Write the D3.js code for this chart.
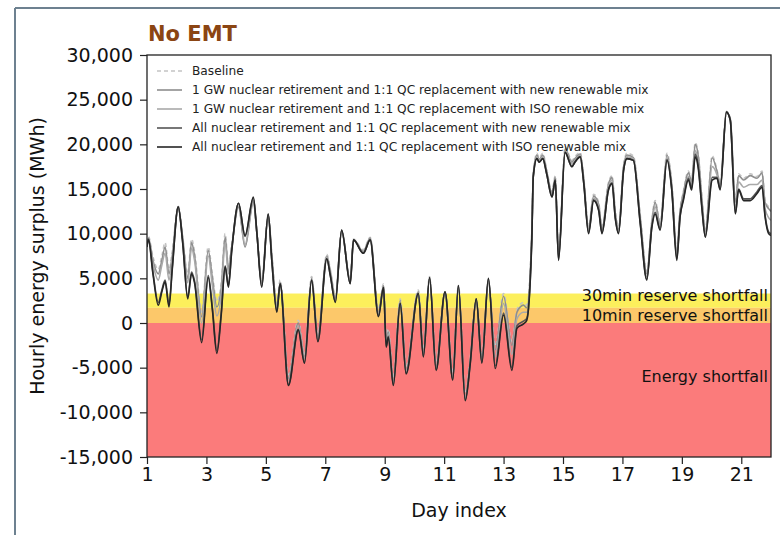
<!DOCTYPE html>
<html><head><meta charset="utf-8">
<script src="https://cdn.jsdelivr.net/npm/d3@7"></script>
<style>
html,body{margin:0;padding:0;background:#fff;}
svg{display:block;font-family:"DejaVu Sans",sans-serif;}
</style></head>
<body><svg id="c" width="780" height="535"></svg>
<script>
const title = "No EMT";
const xLabel = "Day index";
const yLabel = "Hourly energy surplus (MWh)";
const xTicks = [1,3,5,7,9,11,13,15,17,19,21];
const yTicks = [-15000,-10000,-5000,0,5000,10000,15000,20000,25000,30000];
const seriesNames = [
  "Baseline",
  "1 GW nuclear retirement and 1:1 QC replacement with new renewable mix",
  "1 GW nuclear retirement and 1:1 QC replacement with ISO renewable mix",
  "All nuclear retirement and 1:1 QC replacement with new renewable mix",
  "All nuclear retirement and 1:1 QC replacement with ISO renewable mix"
];
const bandNames = ["30min reserve shortfall","10min reserve shortfall","Energy shortfall"];
const bandLimits = [[1700,3300],[0,1700],[-15000,0]];
const bandLabelVals = [3100, 850, -6000];

const days = [1.0,1.05,1.2,1.38,1.5,1.61,1.74,1.85,2.05,2.2,
2.37,2.5,2.6,2.84,3.06,3.2,3.35,3.5,3.63,3.74,
3.85,4.08,4.3,4.58,4.7,4.86,5.08,5.2,5.37,5.48,
5.76,6.09,6.3,6.54,6.75,7.05,7.17,7.34,7.55,7.84,
7.95,8.28,8.51,8.79,8.96,9.05,9.12,9.29,9.52,9.72,
10.13,10.3,10.51,10.73,11.03,11.29,11.48,11.71,11.88,12.08,
12.27,12.49,12.72,13.0,13.28,13.45,13.67,13.78,13.95,14.0,
14.12,14.2,14.32,14.45,14.63,14.74,14.85,15.07,15.3,15.4,
15.58,15.7,15.86,16.03,16.2,16.31,16.53,16.65,16.76,16.87,
17.04,17.15,17.37,17.6,17.82,17.99,18.1,18.27,18.5,18.66,
18.83,18.94,19.05,19.22,19.33,19.45,19.56,19.67,19.79,20.02,
20.18,20.29,20.5,20.63,20.8,20.91,21.08,21.3,21.53,21.7,
21.8,21.92,22.0];

const baseline = [9000,9700,7400,6000,7500,9000,6000,8000,13100,9700,
5500,9400,8000,1200,8500,5500,2400,4500,10000,6500,
8800,13100,8700,13600,10200,4800,12100,7800,2200,4800,
-5800,300,-3500,5200,-1200,7700,6000,3000,10300,5000,
9400,8200,9600,1500,4400,-1700,-700,-6200,2700,-4900,
3700,-3000,5200,-4500,3500,-5600,4200,-7900,-3900,2700,
-3700,4700,-2600,3300,-2100,1500,2300,2000,10200,16600,
19000,18500,19000,17200,14700,16500,7800,19700,18200,18600,
19100,16200,10800,14400,13500,10800,15700,16500,12500,10800,
17700,19000,18700,12100,5800,11500,13700,11300,19000,15700,
8100,12700,14700,17000,16000,20200,18700,14300,10500,18700,
17200,15700,23700,22900,13700,16700,16200,16700,16400,17000,
13700,13000,12700];

const gw1New = [8800,9500,7000,5500,7000,8500,5500,7500,13000,9500,
5000,9000,7500,700,8100,5000,1800,4000,9600,6000,
8500,13000,8500,13500,10000,4500,12000,7500,1800,4500,
-6200,0,-3800,5000,-1500,7500,5800,2800,10200,4800,
9300,8000,9500,1200,4200,-2000,-1000,-6500,2500,-5200,
3500,-3300,5000,-4800,3300,-5900,4000,-8200,-4200,2500,
-4000,4500,-3000,3000,-2500,1200,2000,1700,10000,16500,
18800,18300,18800,17000,14500,16300,7500,19500,18000,18400,
18900,16000,10500,14200,13300,10500,15500,16300,12300,10500,
17500,18800,18500,11800,5500,11300,13500,11000,18800,15500,
7800,12500,14500,16800,15800,20000,18500,14000,10200,18500,
17000,15500,23600,22800,13500,16500,16000,16500,16200,16800,
13500,12800,12500];

const gw1Iso = [8700,9400,6600,4800,6500,7800,4800,7200,13000,9400,
4500,8400,7000,0,7500,4200,800,3200,9000,5500,
8400,13100,8800,13700,10000,4400,12100,7400,1600,4500,
-6500,-300,-4000,4900,-1700,7400,5600,2600,10300,4600,
9300,7900,9400,1000,4100,-2300,-1200,-6700,2400,-5400,
3400,-3500,5000,-5000,3400,-6100,4100,-8400,-4300,2600,
-4200,4700,-3800,2200,-3500,500,1200,1200,9700,16400,
18600,18200,18600,16900,14300,16100,7300,19300,17800,18200,
18800,15800,10300,14000,13000,10300,15200,16000,12000,10300,
17300,18600,18400,11500,5200,11000,13000,10700,18500,15200,
7500,12200,14100,16400,15400,19300,17800,13600,9900,17500,
16600,15200,23600,22700,12900,15800,15200,15500,15500,16000,
12800,11800,11500];

const allNew = [8700,9400,5700,2300,3700,4800,2100,6200,13000,9100,
2900,5700,4700,-1900,5300,1700,-3100,1200,6400,4200,
8100,13400,9700,14000,10000,4100,12200,7000,1300,4400,
-6900,-700,-4400,4800,-2000,7200,5300,2400,10400,4400,
9300,7800,9300,800,4000,-2600,-1500,-6900,2200,-5600,
3300,-3700,5100,-5200,3500,-6300,4200,-8600,-4400,2700,
-4400,5000,-4800,1100,-5000,-300,200,500,9400,16400,
18400,18000,18400,16700,14100,16000,7100,19100,17500,18000,
18600,15600,10100,13800,12700,10100,14900,15700,11800,10100,
17100,18400,18200,11200,4900,10800,12400,10500,18300,15000,
7200,12000,13900,16200,15100,18900,17400,13200,9700,16300,
16300,15000,23600,22700,12300,15000,13900,13900,14700,15400,
12100,10200,10000];

const allIso = [8500,9300,5500,2000,3500,4600,1800,6000,13000,9000,
2700,5500,4500,-2200,5100,1500,-3400,1000,6300,4000,
8000,13400,9800,14100,10000,4000,12200,7000,1200,4400,
-7000,-800,-4500,4800,-2100,7200,5300,2300,10400,4400,
9300,7800,9300,700,4000,-2700,-1600,-7000,2200,-5700,
3300,-3800,5100,-5300,3500,-6400,4200,-8700,-4500,2700,
-4500,5000,-5100,900,-5300,-600,-100,300,9300,16400,
18400,18000,18400,16700,14100,16000,7000,19100,17500,18000,
18600,15600,10000,13700,12600,10000,14900,15600,11700,10000,
17100,18400,18200,11100,4800,10700,12200,10400,18200,14900,
7000,11900,13700,16000,14900,18600,17100,13000,9600,16000,
16200,14900,23600,22700,12200,14900,13700,13700,14500,15200,
11900,10000,9800];

const seriesValues = [baseline, gw1New, gw1Iso, allNew, allIso];
const seriesColors = ["#c4c4c4","#8e8e8e","#a9a9a9","#555555","#262626"];
const seriesDash = ["4,3",null,null,null,null];
const bandColors = ["#fcef5c","#fcc86a","#fb7b7b"];

const svg = d3.select("#c");
const M = {left:147, right:771, top:55, bottom:457};

// outer frame
svg.append("line").attr("x1",15).attr("x2",780).attr("y1",8).attr("y2",8).attr("stroke","#6d8190").attr("stroke-width",2);
svg.append("line").attr("x1",15).attr("x2",15).attr("y1",8).attr("y2",535).attr("stroke","#6d8190").attr("stroke-width",2);

const x = d3.scaleLinear().domain([1,22]).range([M.left,M.right]);
const y = d3.scaleLinear().domain([-15000,30000]).range([M.bottom,M.top]);

// bands
svg.append("g").selectAll("rect").data(bandLimits).join("rect")
  .attr("x",x(1)).attr("width",x(22)-x(1))
  .attr("y",d=>y(d[1])).attr("height",d=>y(d[0])-y(d[1]))
  .attr("fill",(d,i)=>bandColors[i]);

// lines
svg.append("clipPath").attr("id","pc").append("rect")
  .attr("x",M.left).attr("y",M.top).attr("width",M.right-M.left).attr("height",M.bottom-M.top);
const line = d3.line().x((d,i)=>x(days[i])).y(d=>y(d)).curve(d3.curveMonotoneX);
const lg = svg.append("g").attr("clip-path","url(#pc)");
seriesValues.forEach((vals,i)=>{
  lg.append("path").attr("d",line(vals)).attr("fill","none")
    .attr("stroke",seriesColors[i]).attr("stroke-width",1.6)
    .attr("stroke-linejoin","round")
    .attr("stroke-dasharray",seriesDash[i]);
});

// band labels
svg.append("g").selectAll("text").data(bandNames).join("text")
  .attr("x",x(22)-3).attr("y",(d,i)=>y(bandLabelVals[i]))
  .attr("dy","0.35em")
  .attr("text-anchor","end").attr("font-size",16).attr("fill","#111").text(d=>d);

// axes
const fmt = v => d3.format(",")(v).replace("\u2212","-");
const yAxis = svg.append("g").attr("transform",`translate(${M.left},0)`)
  .call(d3.axisLeft(y).tickValues(yTicks).tickFormat(fmt).tickSize(7).tickPadding(7));
const xAxis = svg.append("g").attr("transform",`translate(0,${M.bottom})`)
  .call(d3.axisBottom(x).tickValues(xTicks).tickFormat(d3.format("d")).tickSize(7).tickPadding(4));
[yAxis,xAxis].forEach(a=>{
  a.selectAll("text").attr("font-size",19).attr("fill","#111").attr("font-family","DejaVu Sans");
  a.select(".domain").remove();
  a.selectAll(".tick line").attr("stroke","#222").attr("stroke-width",1.2);
});

// plot frame
svg.append("rect").attr("x",M.left).attr("y",M.top).attr("width",M.right-M.left).attr("height",M.bottom-M.top)
  .attr("fill","none").attr("stroke","#222").attr("stroke-width",1.3);

// axis labels
svg.append("text").attr("x",(M.left+M.right)/2).attr("y",517).attr("text-anchor","middle")
  .attr("font-size",19).attr("fill","#111").text(xLabel);
svg.append("text").attr("transform",`translate(44,${(M.top+M.bottom)/2}) rotate(-90)`)
  .attr("text-anchor","middle").attr("font-size",19).attr("fill","#111").text(yLabel);

// title
svg.append("text").attr("x",148).attr("y",41).attr("font-size",21).attr("font-weight","bold")
  .attr("fill","#8b4513").text(title);

// legend
const leg = svg.append("g");
seriesNames.forEach((n,i)=>{
  const cy = 71 + i*19;
  leg.append("line").attr("x1",157).attr("x2",182).attr("y1",cy).attr("y2",cy)
    .attr("stroke",seriesColors[i]).attr("stroke-width",1.6).attr("stroke-dasharray",seriesDash[i]);
  leg.append("text").attr("x",192).attr("y",cy).attr("dy","0.35em").attr("font-size",12.2)
    .attr("fill","#222").text(n);
});
</script></body></html>
